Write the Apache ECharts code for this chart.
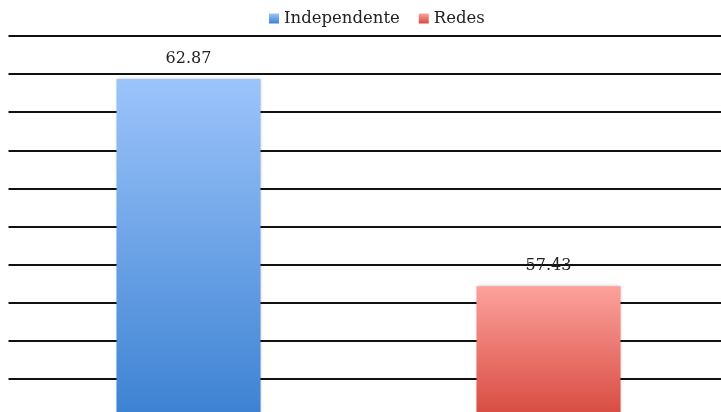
<!DOCTYPE html>
<html>
<head>
<meta charset="utf-8">
<script src="https://cdn.jsdelivr.net/npm/echarts@6/dist/echarts.min.js"></script>
<style>html,body{margin:0;padding:0;background:#fff;}#c{width:721px;height:412px;}</style>
</head>
<body>
<div id="c"></div>
<script>
const categories = ['Independente', 'Redes'];
const seriesNames = ['Independente', 'Redes'];
const independenteValues = [62.87, '-'];
const redesValues = ['-', 57.43];
const yMin = 54, yMax = 64, yInterval = 1;

const chart = echarts.init(document.getElementById('c'), null, {renderer: 'canvas'});
const grad = (a, b) => new echarts.graphic.LinearGradient(0, 0, 0, 1, [{offset: 0, color: a}, {offset: 1, color: b}]);
const labelStyle = {show: true, position: 'top', distance: 12, fontFamily: 'DejaVu Serif', fontSize: 16, color: '#222',
  formatter: p => p.value.toFixed(2)};
chart.setOption({
  animation: false,
  backgroundColor: '#fff',
  legend: {
    top: 5, left: 264, itemWidth: 10, itemHeight: 10, itemGap: 19,
    icon: 'rect',
    textStyle: {fontFamily: 'DejaVu Serif', fontSize: 16.5, color: '#222'},
    data: seriesNames
  },
  grid: {left: 8.5, width: 720, top: 36, height: 381, containLabel: false, outerBoundsMode: 'none'},
  xAxis: {type: 'category', data: categories, axisLine: {show: false}, axisTick: {show: false}, axisLabel: {show: false}},
  yAxis: {type: 'value', min: yMin, max: yMax, interval: yInterval, axisLine: {show: false}, axisTick: {show: false}, axisLabel: {show: false},
    splitLine: {lineStyle: {color: '#111', width: 2}}},
  series: [
    {name: seriesNames[0], type: 'bar', stack: 'a', barWidth: 144, data: independenteValues,
      itemStyle: {color: grad('#9cc4fb', '#3c82d2'), shadowColor: 'rgba(0,0,0,0.25)', shadowBlur: 3},
      label: labelStyle},
    {name: seriesNames[1], type: 'bar', stack: 'a', barWidth: 144, data: redesValues,
      itemStyle: {color: grad('#fda19c', '#d74a40'), shadowColor: 'rgba(0,0,0,0.25)', shadowBlur: 3},
      label: labelStyle}
  ]
});
</script>
</body>
</html>
